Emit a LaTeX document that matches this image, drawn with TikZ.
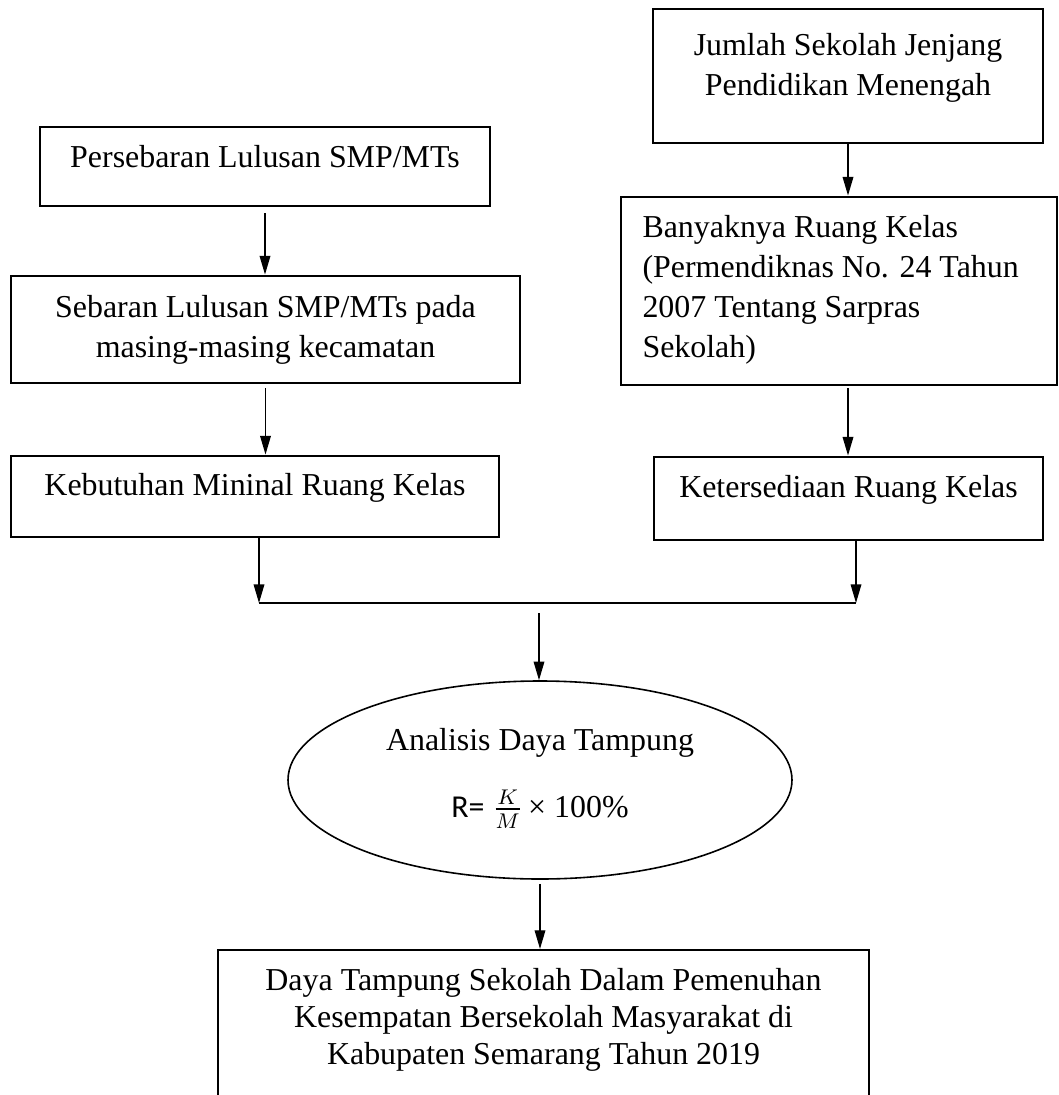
\documentclass[tikz,border=0pt]{standalone}
\usepackage{fontspec}
\setmainfont{Liberation Serif}
\newfontfamily\calibri{Carlito}
\usetikzlibrary{arrows.meta, shapes.geometric}
\newcommand\pxu{0.376pt}
\tikzset{>={Triangle[length=7pt, width=4pt]}}
\tikzset{kotak/.style={draw, line width=1.1pt, inner sep=0pt},
  teks/.style={inner sep=0pt, font=\fontsize{12}{15}\selectfont},
  panah/.style={->, line width=0.5pt}}

\begin{document}
\begin{tikzpicture}[x=\pxu, y=-\pxu]
\useasboundingbox (0,0) rectangle (1059,1095);
% kotak
\node[kotak, minimum width=390*\pxu, minimum height=134*\pxu] (jumlah) at (848,76) {};
\node[kotak, minimum width=450*\pxu, minimum height=79*\pxu] (perseb) at (265,166.5) {};
\node[kotak, minimum width=509*\pxu, minimum height=107*\pxu] (sebaran) at (265.5,329.5) {};
\node[kotak, minimum width=436*\pxu, minimum height=188*\pxu] (banyak) at (839,291) {};
\node[kotak, minimum width=488*\pxu, minimum height=81*\pxu] (butuh) at (255,496.5) {};
\node[kotak, minimum width=389*\pxu, minimum height=83*\pxu] (sedia) at (848.5,498.5) {};
\node[draw, ellipse, line width=0.6pt, minimum width=504*\pxu, minimum height=198*\pxu] (analisis) at (540,780) {};
\node[kotak, line width=0.8pt, minimum width=651*\pxu, minimum height=220*\pxu] (hasil) at (543.5,1060) {};
% teks
\node[teks, anchor=north, align=center] (jumlahT) at (848,33) {Jumlah Sekolah Jenjang\\Pendidikan Menengah};
\node[teks, anchor=base] (persebT) at (265,167) {Persebaran Lulusan SMP/MTs};
\node[teks, anchor=north, align=center] (sebaranT) at (265.5,295) {Sebaran Lulusan SMP/MTs pada\\masing-masing kecamatan};
\node[teks, anchor=north west, align=left] (banyakT) at (642,215) {Banyaknya Ruang Kelas\\(Permendiknas No. 24 Tahun\\2007 Tentang Sarpras\\Sekolah)};
\node[teks, anchor=base] (butuhT) at (255,495) {Kebutuhan Mininal Ruang Kelas};
\node[teks, anchor=base] (sediaT) at (848.5,497) {Ketersediaan Ruang Kelas};
\node[teks, anchor=base] (analisisT) at (540,750) {Analisis Daya Tampung};
\node[teks, anchor=base] (rumus) at (540,817) {{\calibri R=} $\frac{K}{M}$\,× 100\%};
\node[teks, anchor=north, align=center, font=\fontsize{12}{13.9}\selectfont] (hasilT) at (543.5,968) {Daya Tampung Sekolah Dalam Pemenuhan\\Kesempatan Bersekolah Masyarakat di\\Kabupaten Semarang Tahun 2019};
% panah
\coordinate (kiri) at (259,603);
\coordinate (kanan) at (856,603);
\coordinate (tengah) at (539,613);
\draw[panah] (jumlah.south) -- (jumlah.south |- banyak.north);
\draw[panah, shorten <=6*\pxu] (perseb.south) -- (perseb.south |- sebaran.north);
\draw[panah, shorten <=4*\pxu] (sebaran.south) -- (sebaran.south |- butuh.north);
\draw[panah, shorten <=2*\pxu] (jumlah.south |- banyak.south) -- (jumlah.south |- sedia.north);
\draw[panah] (kiri |- butuh.south) -- (kiri);
\draw[panah] (kanan |- sedia.south) -- (kanan);
\draw[line width=1.1pt] (kiri) -- (kanan);
\draw[panah] (tengah) -- (tengah |- analisis.north);
\draw[panah, shorten <=4*\pxu] (analisis.south) -- (analisis.south |- hasil.north);
\end{tikzpicture}
\end{document}
